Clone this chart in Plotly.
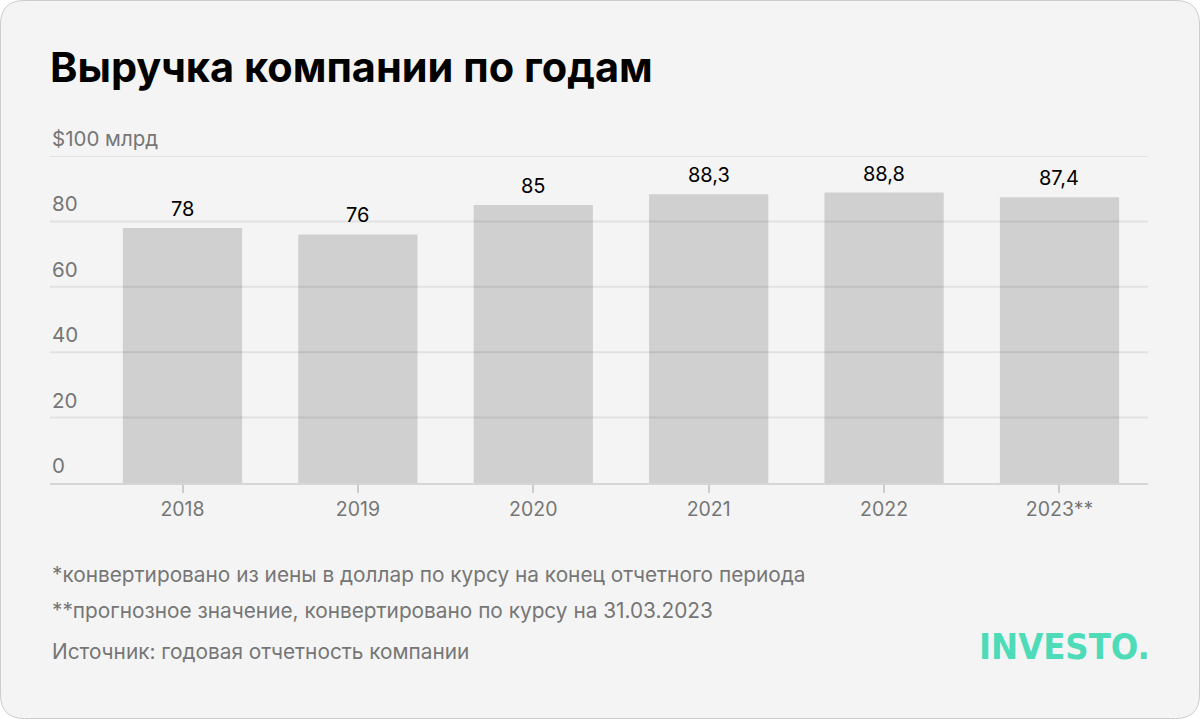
import plotly.graph_objects as go

years = ["2018", "2019", "2020", "2021", "2022", "2023**"]
revenue = [78, 76, 85, 88.3, 88.8, 87.4]
value_labels = ["78", "76", "85", "88,3", "88,8", "87,4"]
y_ticks = [0, 20, 40, 60, 80, 100]
y_tick_labels = ["0", "20", "40", "60", "80", "$100 млрд"]
title = "Выручка компании по годам"
notes = [
    "*конвертировано из иены в доллар по курсу на конец отчетного периода",
    "**прогнозное значение, конвертировано по курсу на 31.03.2023",
    "Источник: годовая отчетность компании",
]
brand = "INVESTO."

W, H = 1200, 719
FONT = "Inter"
GRAY = "#767676"

def px(x):
    return x / W

def py(y):
    return 1 - y / H

x0, x1 = 50, 1148
y_zero, y_top = 483, 156

fig = go.Figure()
fig.add_trace(go.Bar(
    x=list(range(len(years))), y=revenue, marker=dict(color="#d0d0d0", line=dict(width=0)),
    width=0.68, hoverinfo="skip",
))

# rounded card
r = 24
a, b, c, d = 0.5, 0.5, W - 0.5, H - 0.5
path = (f"M {px(a + r)},{py(b)} L {px(c - r)},{py(b)} Q {px(c)},{py(b)} {px(c)},{py(b + r)} "
        f"L {px(c)},{py(d - r)} Q {px(c)},{py(d)} {px(c - r)},{py(d)} "
        f"L {px(a + r)},{py(d)} Q {px(a)},{py(d)} {px(a)},{py(d - r)} "
        f"L {px(a)},{py(b + r)} Q {px(a)},{py(b)} {px(a + r)},{py(b)} Z")
shapes = [dict(type="path", path=path, xref="paper", yref="paper",
               fillcolor="#f4f4f4", line=dict(color="#cccccc", width=1), layer="below")]
for t in y_ticks[1:]:
    shapes.append(dict(type="line", xref="paper", yref="y", x0=px(x0), x1=px(x1), y0=t, y1=t,
                       line=dict(color="rgba(0,0,0,0.075)", width=2), layer="above"))

annotations = []
annotations.append(dict(text=f"<b>{title}</b>", x=px(48), y=py(67), xref="paper", yref="paper",
                        xanchor="left", yanchor="middle", showarrow=False,
                        font=dict(family=FONT, size=41.5, color="#000000")))
for t, lab in zip(y_ticks, y_tick_labels):
    annotations.append(dict(text=lab, x=px(x0), y=t, xref="paper", yref="y",
                            xanchor="left", yanchor="bottom", yshift=3, showarrow=False,
                            font=dict(family=FONT, size=20.5, color=GRAY)))
for i, (v, lab) in enumerate(zip(revenue, value_labels)):
    annotations.append(dict(text=lab, x=i, y=v, xref="x", yref="y",
                            xanchor="center", yanchor="bottom", yshift=5, showarrow=False,
                            font=dict(family=FONT, size=20, color="#000000")))
for note, yy in zip(notes, [574, 610, 651]):
    annotations.append(dict(text=note, x=px(x0), y=py(yy), xref="paper", yref="paper",
                            xanchor="left", yanchor="middle", showarrow=False,
                            font=dict(family=FONT, size=20.8, color=GRAY)))
annotations.append(dict(text=f"<b>{brand}</b>", x=px(1152), y=py(646), xref="paper", yref="paper",
                        xanchor="right", yanchor="middle", showarrow=False,
                        font=dict(family="DejaVu Sans Condensed", size=36, color="#4edcb8")))

fig.update_layout(
    width=W, height=H, margin=dict(l=0, r=0, t=0, b=0),
    paper_bgcolor="#ffffff", plot_bgcolor="rgba(0,0,0,0)",
    showlegend=False,
    shapes=shapes, annotations=annotations,
    xaxis=dict(domain=[px(x0), px(x1)], range=[-0.7554, 5.5046],
               tickmode="array", tickvals=list(range(len(years))), ticktext=years,
               showgrid=False, showline=True, linecolor="#d6d6d6", linewidth=2, zeroline=False,
               ticks="outside", ticklen=8, tickcolor="#cccccc", tickwidth=2,
               tickfont=dict(family=FONT, size=19.5, color=GRAY), fixedrange=True),
    yaxis=dict(domain=[py(y_zero), py(y_top)], range=[0, 100], showgrid=False,
               showticklabels=False, zeroline=False, fixedrange=True),
)

fig.write_html("out.html")
